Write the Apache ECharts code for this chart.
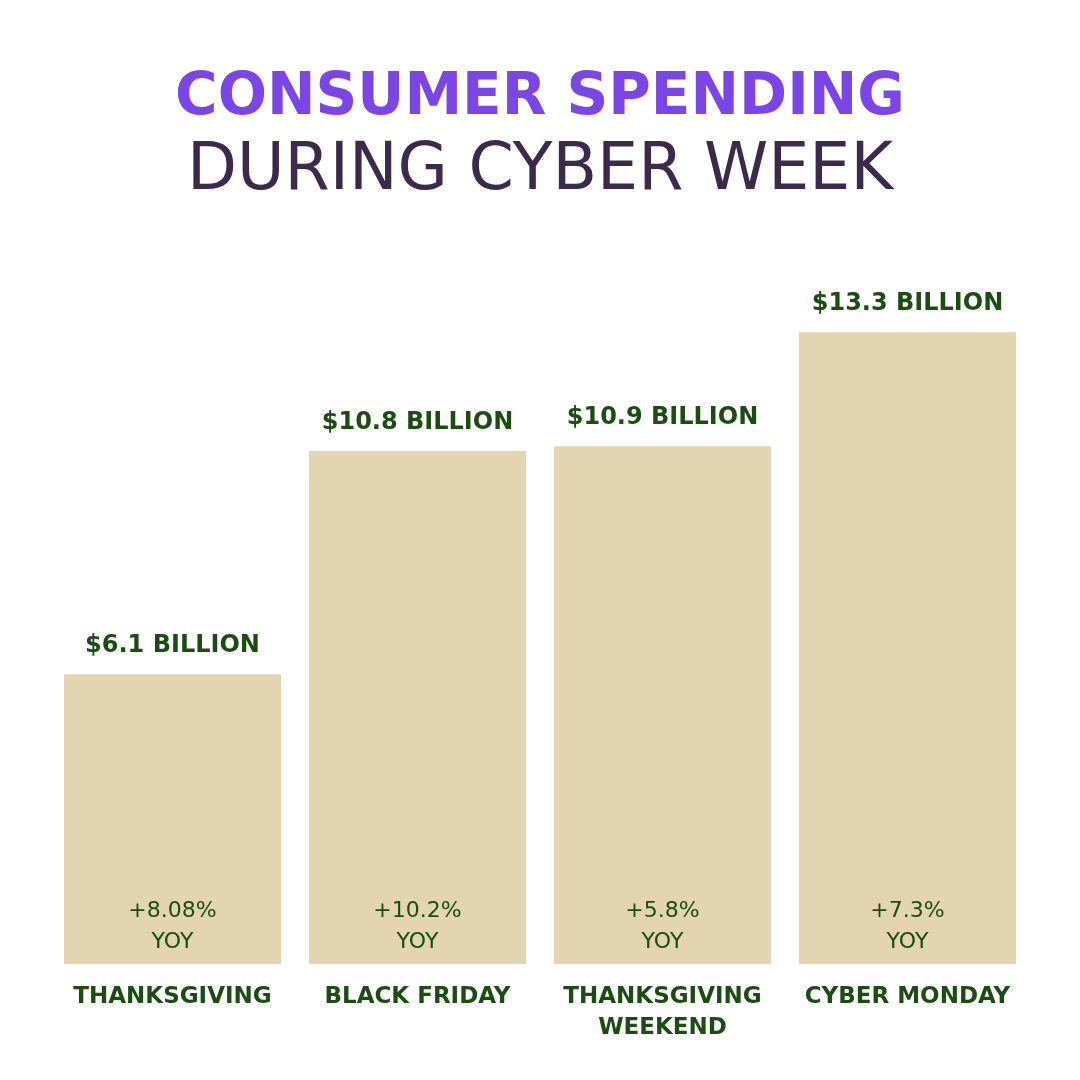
<!DOCTYPE html>
<html lang="en">
<head>
    <meta charset="UTF-8">
    <title>Consumer Spending During Cyber Week</title>
    <script src="https://cdn.jsdelivr.net/npm/echarts@6/dist/echarts.min.js"></script>
    <style>
        html, body { margin: 0; padding: 0; background: #ffffff; }
        #main { width: 1080px; height: 1080px; }
    </style>
</head>
<body>
    <div id="main"></div>
<script>
    // 数据
    var categories = ['THANKSGIVING', 'BLACK FRIDAY', 'THANKSGIVING\nWEEKEND', 'CYBER MONDAY'];
    var spending = [6.1, 10.8, 10.9, 13.3];   // billions of dollars
    var yoy = ['+8.08%', '+10.2%', '+5.8%', '+7.3%'];

    var green = '#1b4d12';
    var font = 'DejaVu Sans';

    var myChart = echarts.init(document.getElementById('main'));
    myChart.setOption({
        backgroundColor: '#ffffff',
        title: {
            left: 'center',
            top: 58,
            text: '{a|CONSUMER SPENDING}\n{b|DURING CYBER WEEK}',
            textStyle: {
                rich: {
                    a: { fontFamily: font, fontWeight: 'bold', fontSize: 58, color: '#7b45e8', lineHeight: 72 },
                    b: { fontFamily: font, fontWeight: 'normal', fontSize: 65, color: '#3c2a4d', lineHeight: 74 }
                }
            }
        },
        grid: { left: 50, right: 50, top: 299, bottom: 116 },
        xAxis: {
            type: 'category',
            data: categories,
            axisLine: { show: false },
            axisTick: { show: false },
            axisLabel: {
                interval: 0,
                margin: 18,
                fontFamily: font,
                fontWeight: 'bold',
                fontSize: 23,
                lineHeight: 31,
                color: green
            }
        },
        yAxis: {
            type: 'value',
            min: 0,
            max: 14,
            show: false,
            splitLine: { show: false }
        },
        series: [
            {
                type: 'bar',
                data: spending,
                barWidth: 217,
                itemStyle: { color: '#e3d5b2' },
                label: {
                    show: true,
                    position: 'top',
                    distance: 16,
                    fontFamily: font,
                    fontWeight: 'bold',
                    fontSize: 24,
                    color: green,
                    formatter: function (p) { return '$' + p.value + ' BILLION'; }
                }
            },
            {
                // 透明叠加层，用于显示柱内的同比标签
                type: 'bar',
                data: spending,
                barWidth: 217,
                barGap: '-100%',
                itemStyle: { color: 'rgba(0,0,0,0)' },
                silent: true,
                label: {
                    show: true,
                    position: 'insideBottom',
                    distance: 6,
                    fontFamily: font,
                    fontSize: 22,
                    lineHeight: 31,
                    color: green,
                    formatter: function (p) { return yoy[p.dataIndex] + '\nYOY'; }
                }
            }
        ]
    });
</script>
</body>
</html>
